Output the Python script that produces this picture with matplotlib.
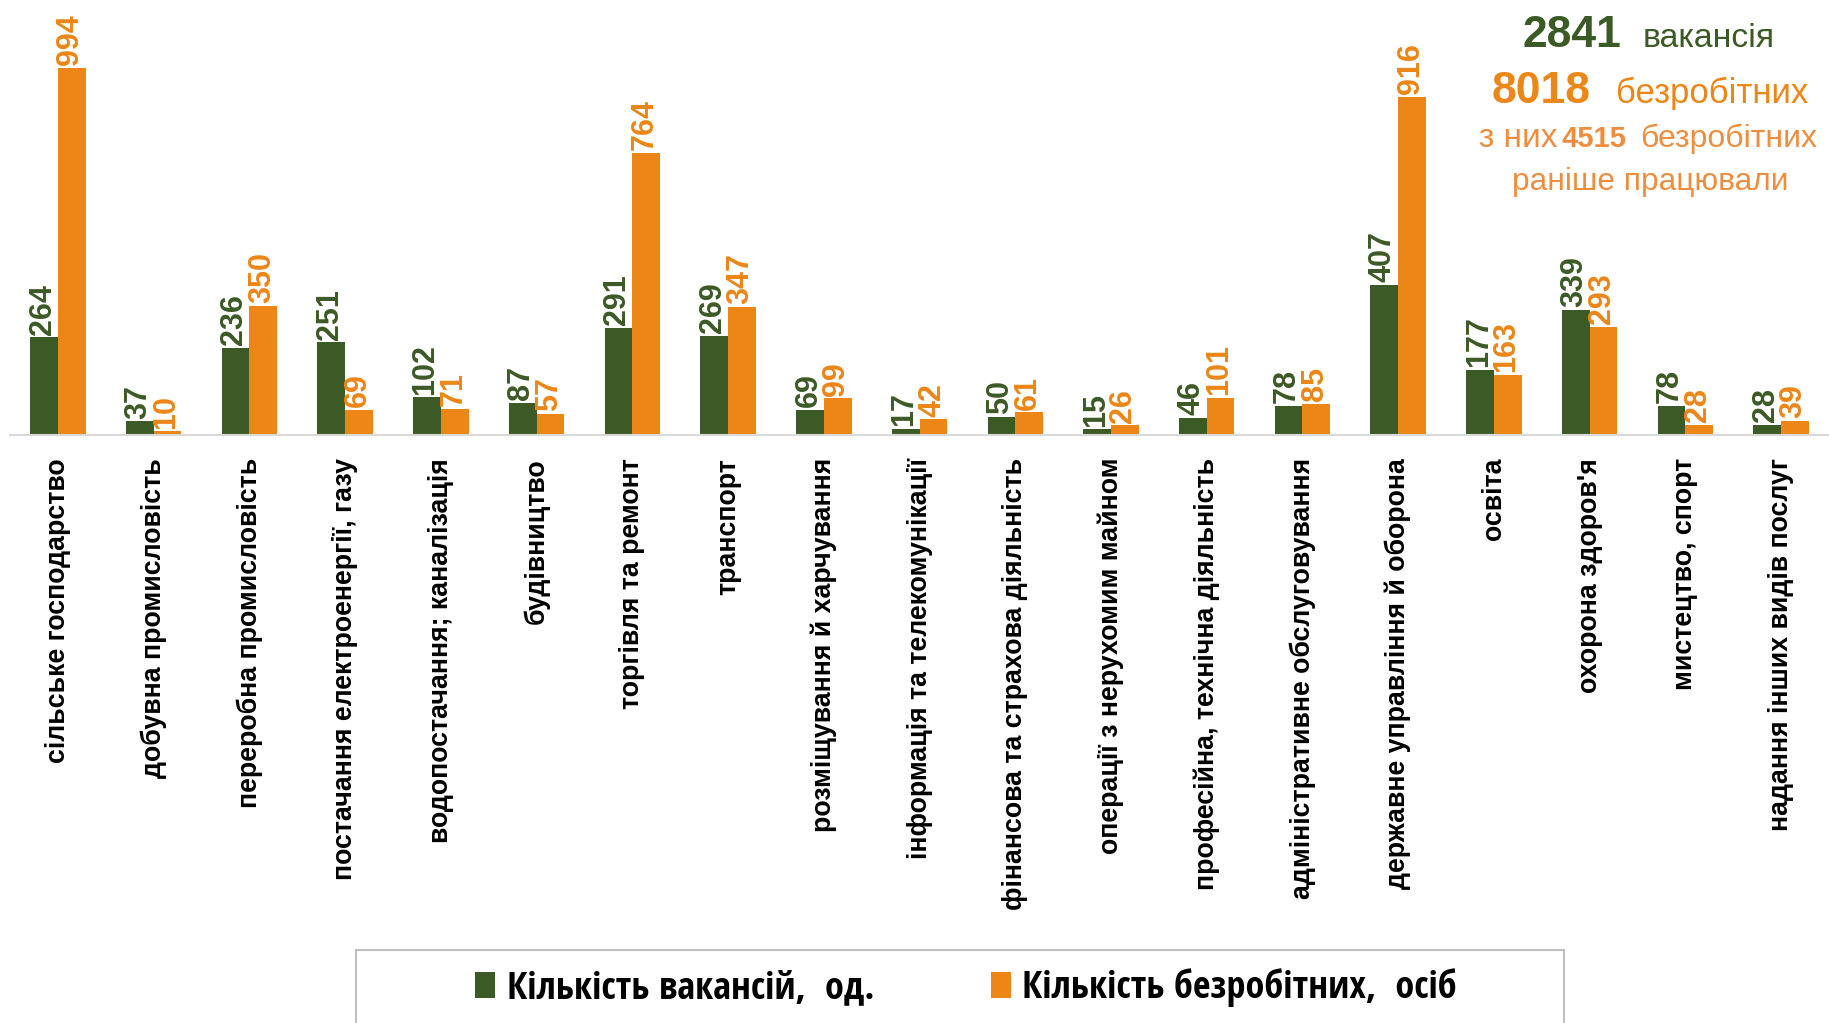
import numpy as np
import matplotlib.pyplot as plt
from matplotlib.patches import Rectangle
from matplotlib import font_manager as fm

categories = ["сільське господарство", "добувна промисловість", "переробна промисловість",
              "постачання електроенергії, газу", "водопостачання; каналізація", "будівництво",
              "торгівля та ремонт", "транспорт", "розміщування й харчування",
              "інформація та телекомунікації", "фінансова та страхова діяльність",
              "операції з нерухомим майном", "професійна, технічна діяльність",
              "адміністративне обслуговування", "державне управління й оборона", "освіта",
              "охорона здоров'я", "мистецтво, спорт", "надання інших видів послуг"]
vacancies = [264, 37, 236, 251, 102, 87, 291, 269, 69, 17, 50, 15, 46, 78, 407, 177, 339, 78, 28]
unemployed = [994, 10, 350, 69, 71, 57, 764, 347, 99, 42, 61, 26, 101, 85, 916, 163, 293, 28, 39]
series_names = ["Кількість вакансій,  од.", "Кількість безробітних,  осіб"]
total_vac, total_unemp, prev_worked = 2841, 8018, 4515

green = '#3C5A25'
orange = '#EB8617'
orange2 = '#EF8D3E'

installed = set(f.name for f in fm.fontManager.ttflist)
def pick(*names):
    for n in names:
        if n in installed:
            return n
    return 'DejaVu Sans'

narrow = pick('Liberation Sans Narrow', 'Arimo', 'Liberation Sans')
wide = pick('Liberation Sans', 'Arimo')
cond = pick('Open Sans Condensed', 'Carlito', 'Lato')
cat_size = 23.5 if narrow == 'Liberation Sans Narrow' else 19.3

fig = plt.figure(figsize=(18.29, 10.23), dpi=100)
ax = fig.add_axes([0.0055, 0.5748, 0.9945, 0.4252])

x = np.arange(len(categories))
w = 0.29
b1 = ax.bar(x - w/2, vacancies, w, color=green, label=series_names[0])
b2 = ax.bar(x + w/2, unemployed, w, color=orange, label=series_names[1])

ax.set_xlim(-0.5, len(categories) - 0.5)
ax.set_ylim(0, 1178)
for s in ['top', 'left', 'right']:
    ax.spines[s].set_visible(False)
ax.spines['bottom'].set_color('#D9D9D9')
ax.spines['bottom'].set_linewidth(1.5)
ax.set_yticks([])
ax.set_xticks(x)
ax.set_xticklabels(categories, rotation=90, fontsize=cat_size, fontweight='bold',
                   family=narrow, va='top', ha='center')
ax.tick_params(axis='x', length=0, pad=16.5)

lab = dict(rotation=90, ha='center', va='bottom', fontsize=22, fontweight='bold', family=narrow)
for xi, v in zip(x, vacancies):
    ax.annotate(str(v), (xi - w/2, v), xytext=(-1, 2), textcoords='offset points', color=green, **lab)
for xi, v in zip(x, unemployed):
    ax.annotate(str(v), (xi + w/2, v), xytext=(-1, 2), textcoords='offset points', color=orange, **lab)

# summary text, top right (positions in pixels of the 1829x1023 picture)
def fx(px):
    return px / 1829
def fy(px):
    return 1 - px / 1023
big = dict(fontweight='bold', family=wide, ha='left', va='baseline')
reg = dict(family=narrow, ha='left', va='baseline')
fig.text(fx(1523), fy(47), f"{total_vac}", color=green, fontsize=32, **big)
fig.text(fx(1643), fy(47), "вакансія", color=green, fontsize=24.3, **reg)
fig.text(fx(1492), fy(103), f"{total_unemp}", color=orange, fontsize=32, **big)
fig.text(fx(1616), fy(103), "безробітних", color=orange, fontsize=25, **reg)
fig.text(fx(1479), fy(147), "з них", color=orange2, fontsize=24, **reg)
fig.text(fx(1562), fy(147), f"{prev_worked}", color=orange2, fontsize=21, **big)
fig.text(fx(1640), fy(147), "безробітних", color=orange2, fontsize=23, **reg)
fig.text(fx(1512), fy(190), "раніше працювали", color=orange2, fontsize=22.8, **reg)

# legend box running off the bottom edge
fig.patches.append(Rectangle((fx(356), -0.05), (1564 - 356) / 1829, 0.05 + 73 / 1023,
                             transform=fig.transFigure, fill=False, edgecolor='#BFBFBF', lw=1.5))
fig.legend(handles=[b1, b2], loc='center', bbox_to_anchor=(fx(966), fy(988)), ncol=2, frameon=False,
           prop=dict(family=cond, weight='bold', size=27.5),
           handlelength=0.52, handleheight=0.7, handletextpad=0.3, columnspacing=3.05)

plt.savefig('out.png', dpi=100)
